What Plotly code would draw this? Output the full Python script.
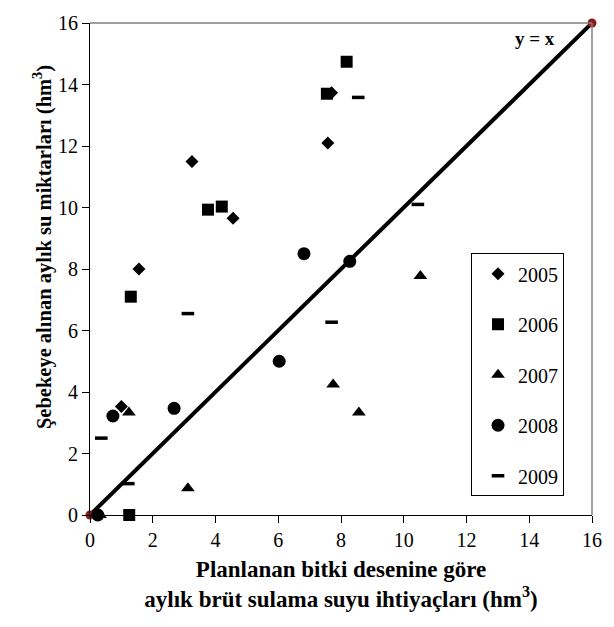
import plotly.graph_objects as go

# (x = planned need, y = delivered to network), hm3
x_2005 = [1.0, 1.56, 3.25, 4.56, 7.58, 7.7]
y_2005 = [3.53, 8.0, 11.5, 9.65, 12.1, 13.73]

x_2006 = [1.25, 1.3, 3.76, 4.2, 7.55, 8.18]
y_2006 = [0.0, 7.1, 9.93, 10.03, 13.7, 14.74]

x_2007 = [0.32, 1.24, 3.12, 7.75, 8.57, 10.53]
y_2007 = [0.0, 3.33, 0.87, 4.24, 3.33, 7.77]

x_2008 = [0.25, 0.73, 2.68, 6.03, 6.82, 8.28]
y_2008 = [0.0, 3.22, 3.47, 5.0, 8.5, 8.25]

x_2009 = [0.36, 1.22, 3.12, 7.7, 10.45, 8.55]
y_2009 = [2.5, 1.02, 6.55, 6.27, 10.1, 13.58]

line_x = [0, 16]
line_y = [0, 16]

FONT = "Liberation Serif"

fig = go.Figure()

fig.add_trace(go.Scatter(
    x=line_x, y=line_y, mode="lines+markers",
    line=dict(color="black", width=4),
    marker=dict(color="#8b1a1a", size=9),
    showlegend=False, cliponaxis=False, hoverinfo="skip"
))

series = [
    ("2005", x_2005, y_2005, "diamond", 10),
    ("2006", x_2006, y_2006, "square", 12),
    ("2007", x_2007, y_2007, "triangle-up", 12),
    ("2008", x_2008, y_2008, "circle", 13),
]
for name, xs, ys, sym, size in series:
    fig.add_trace(go.Scatter(
        x=xs, y=ys, mode="markers", name=name, legendgroup=name,
        marker=dict(symbol=sym, size=size, color="black"),
        cliponaxis=False
    ))

fig.add_trace(go.Scatter(
    x=x_2009, y=y_2009, mode="markers", name="2009", legendgroup="2009",
    marker=dict(symbol="line-ew", size=9, color="black",
                line=dict(color="black", width=3.5)),
    cliponaxis=False
))

fig.add_annotation(
    x=14.17, y=15.5, text="<b>y = x</b>", showarrow=False,
    font=dict(family=FONT, size=19, color="black")
)
fig.add_annotation(
    xref="paper", yref="paper", x=-0.124, y=0.545, textangle=-90,
    text="<b>Şebekeye alınan aylık su miktarları (hm<sup>3</sup>)</b>",
    showarrow=False, font=dict(family=FONT, size=20.5, color="black")
)

# gray frame on top and right
fig.add_shape(type="line", xref="paper", yref="paper", x0=0, x1=1, y0=1, y1=1,
              line=dict(color="#808080", width=1.5))
fig.add_shape(type="line", xref="paper", yref="paper", x0=1, x1=1, y0=0, y1=1,
              line=dict(color="#808080", width=1.5))

axis_common = dict(
    range=[0, 16], dtick=2, showgrid=False, zeroline=False,
    showline=True, linecolor="black", linewidth=1.2,
    ticks="outside", ticklen=7, tickcolor="black",
    tickfont=dict(family=FONT, size=20, color="black")
)

fig.update_layout(
    width=614, height=627,
    margin=dict(l=90, r=22, t=12, b=112),
    plot_bgcolor="white", paper_bgcolor="white",
    font=dict(family=FONT, color="black"),
    xaxis=dict(
        **axis_common,
        title=dict(text="<b>Planlanan bitki desenine göre<br>aylık brüt sulama suyu ihtiyaçları (hm<sup>3</sup>)</b>",
                   font=dict(family=FONT, size=23, color="black"), standoff=10)
    ),
    yaxis=axis_common,
    legend=dict(
        x=0.759, y=0.532, xanchor="left", yanchor="top",
        bgcolor="white", bordercolor="black", borderwidth=1,
        font=dict(family=FONT, size=20, color="black"),
        traceorder="grouped", tracegroupgap=21.5, itemwidth=30,
        indentation=6, entrywidth=102
    ),
    showlegend=True
)

fig.write_html("out.html", config={"displayModeBar": False},
               post_script="document.body.style.margin='0';document.body.style.overflow='hidden';")
